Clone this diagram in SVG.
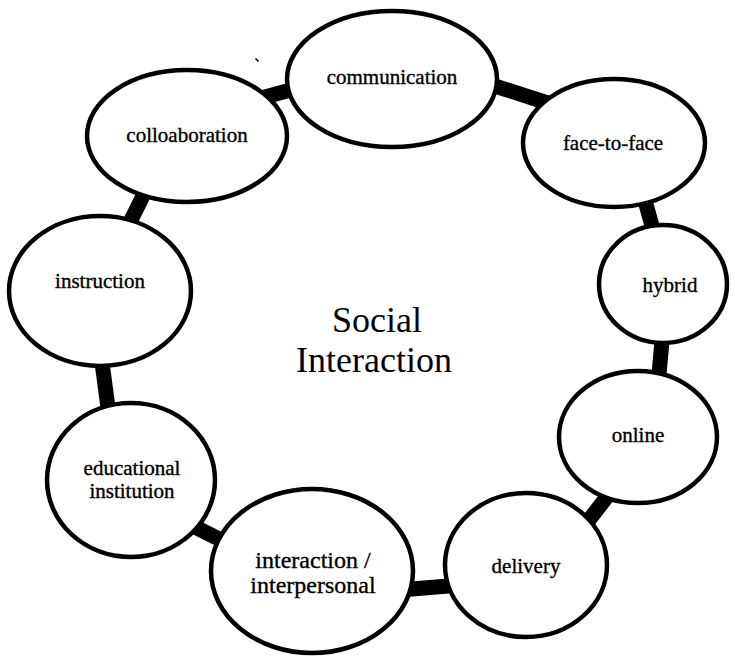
<svg xmlns="http://www.w3.org/2000/svg" width="735" height="656" viewBox="0 0 735 656">
  <style>
    .bg { fill: #ffffff; }
    .link { stroke: #000000; stroke-width: 15; stroke-linecap: butt; fill: none; }
    .node ellipse { fill: #ffffff; stroke: #000000; stroke-width: 4.5; }
    .label { font-size: 21px; fill: #000000; stroke: #000000; stroke-width: 0.35; text-anchor: middle; }
    .big { font-size: 24px; }
    .title { font-size: 36px; fill: #000000; text-anchor: middle; }
  </style>

  <rect class="bg" x="0" y="0" width="735" height="656"/>

  <!-- thick bars joining neighbouring ellipses; ellipse fills cover the ends -->
  <g id="connectors">
    <line class="link" x1="250" y1="101" x2="305" y2="86"/>
    <line class="link" x1="470" y1="78" x2="560" y2="107"/>
    <line class="link" x1="642" y1="190" x2="656" y2="240"/>
    <line class="link" x1="663" y1="330" x2="658" y2="385"/>
    <line class="link" x1="620" y1="480" x2="575" y2="538"/>
    <line class="link" x1="400" y1="590" x2="460" y2="585"/>
    <line class="link" x1="185" y1="522" x2="235" y2="547"/>
    <line class="link" x1="101" y1="355" x2="109" y2="415"/>
    <line class="link" x1="125" y1="232" x2="150" y2="182"/>
  </g>

  <g font-family="'Liberation Serif', 'DejaVu Serif', serif">
    <g id="node-communication" class="node">
      <ellipse cx="392" cy="79" rx="105" ry="68"/>
      <text class="label" x="392" y="84">communication</text>
    </g>

    <g id="node-collaboration" class="node">
      <ellipse cx="187" cy="136" rx="100" ry="66"/>
      <text class="label" x="187" y="142">colloaboration</text>
    </g>

    <g id="node-face-to-face" class="node">
      <ellipse cx="614" cy="143" rx="91" ry="64"/>
      <text class="label" x="613" y="150">face-to-face</text>
    </g>

    <g id="node-hybrid" class="node">
      <ellipse cx="663" cy="284" rx="64" ry="59"/>
      <text class="label" x="670" y="292">hybrid</text>
    </g>

    <g id="node-online" class="node">
      <ellipse cx="638" cy="437" rx="79" ry="66"/>
      <text class="label" x="638" y="442">online</text>
    </g>

    <g id="node-delivery" class="node">
      <ellipse cx="526" cy="565" rx="81" ry="72"/>
      <text class="label" x="526" y="573">delivery</text>
    </g>

    <g id="node-interaction" class="node">
      <ellipse cx="312" cy="571" rx="101" ry="82"/>
      <text class="label big" x="313" y="568">interaction /</text>
      <text class="label big" x="313" y="593">interpersonal</text>
    </g>

    <g id="node-educational" class="node">
      <ellipse cx="131" cy="480" rx="84" ry="77"/>
      <text class="label" x="132" y="475">educational</text>
      <text class="label" x="132" y="498">institution</text>
    </g>

    <g id="node-instruction" class="node">
      <ellipse cx="100" cy="291" rx="91" ry="75"/>
      <text class="label" x="100" y="288">instruction</text>
    </g>

    <g id="centre-title">
      <text class="title" x="377" y="332">Social</text>
      <text class="title" x="374" y="372">Interaction</text>
    </g>
  </g>

  <!-- small stray pen mark left of the top ellipse -->
  <path d="M255.5 58.5 L258.5 61.5" stroke="#000000" stroke-width="1.6" fill="none"/>
</svg>
